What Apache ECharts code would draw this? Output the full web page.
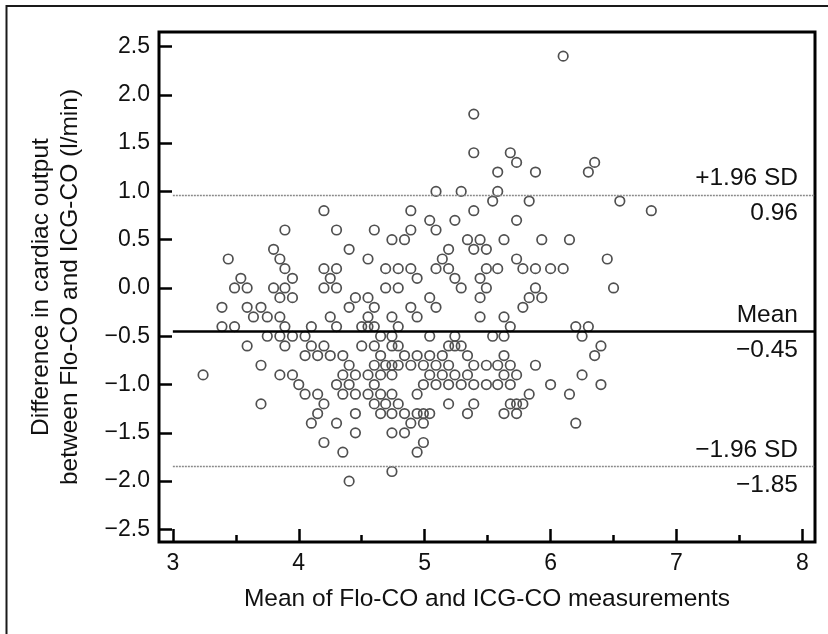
<!DOCTYPE html>
<html>
<head>
<meta charset="utf-8">
<title>Bland-Altman Flo-CO vs ICG-CO</title>
<style>
  html, body { margin: 0; padding: 0; background: #fff; }
  #chart { width: 828px; height: 634px; }
</style>
</head>
<body>
<div id="chart"></div>
<script src="https://cdn.jsdelivr.net/npm/echarts@6/dist/echarts.min.js"></script>
<script>
// mean of the two methods (x) and their difference (y)
var meanCO = [
  3.24, 3.39, 3.39, 3.44, 3.49, 3.49, 3.54, 3.59, 3.59, 3.59, 3.64, 3.70, 3.70, 3.70, 3.75, 3.75,
  3.80, 3.80, 3.85, 3.85, 3.85, 3.85, 3.85, 3.89, 3.89, 3.89, 3.89, 3.89, 3.95, 3.95, 3.95, 3.95,
  4.00, 4.05, 4.05, 4.05, 4.10, 4.10, 4.10, 4.15, 4.15, 4.15, 4.20, 4.20, 4.20, 4.20, 4.20, 4.20,
  4.25, 4.25, 4.25, 4.30, 4.30, 4.30, 4.30, 4.30, 4.30, 4.35, 4.35, 4.35, 4.35, 4.40, 4.40, 4.40,
  4.40, 4.40, 4.45, 4.45, 4.45, 4.45, 4.45, 4.50, 4.50, 4.55, 4.55, 4.55, 4.55, 4.55, 4.55, 4.60,
  4.60, 4.60, 4.60, 4.60, 4.60, 4.60, 4.65, 4.65, 4.65, 4.65, 4.65, 4.69, 4.69, 4.69, 4.69, 4.74,
  4.74, 4.74, 4.74, 4.74, 4.74, 4.74, 4.74, 4.74, 4.74, 4.79, 4.79, 4.79, 4.79, 4.79, 4.79, 4.84,
  4.84, 4.84, 4.84, 4.89, 4.89, 4.89, 4.89, 4.89, 4.89, 4.94, 4.94, 4.94, 4.94, 4.94, 4.94, 4.99,
  4.99, 4.99, 4.99, 4.99, 5.04, 5.04, 5.04, 5.04, 5.04, 5.04, 5.09, 5.09, 5.09, 5.09, 5.09, 5.09,
  5.14, 5.14, 5.14, 5.19, 5.19, 5.19, 5.19, 5.19, 5.19, 5.24, 5.24, 5.24, 5.24, 5.24, 5.29, 5.29,
  5.29, 5.29, 5.34, 5.34, 5.34, 5.34, 5.39, 5.39, 5.39, 5.39, 5.39, 5.39, 5.39, 5.44, 5.44, 5.44,
  5.44, 5.49, 5.49, 5.49, 5.49, 5.49, 5.54, 5.54, 5.58, 5.58, 5.58, 5.58, 5.58, 5.63, 5.63, 5.63,
  5.63, 5.63, 5.63, 5.68, 5.68, 5.68, 5.68, 5.68, 5.73, 5.73, 5.73, 5.73, 5.73, 5.73, 5.78, 5.78,
  5.78, 5.83, 5.83, 5.83, 5.88, 5.88, 5.88, 5.88, 5.93, 5.93, 6.00, 6.00, 6.10, 6.10, 6.15, 6.15,
  6.20, 6.20, 6.25, 6.25, 6.30, 6.30, 6.35, 6.35, 6.40, 6.40, 6.45, 6.50, 6.55, 6.80
];
var diffCO = [
  -0.9, -0.2, -0.4, 0.3, 0.0, -0.4, 0.1, 0.0, -0.2, -0.6, -0.3, -0.2, -0.8, -1.2, -0.3, -0.5,
  0.4, 0.0, 0.3, -0.1, -0.3, -0.5, -0.9, 0.6, 0.2, 0.0, -0.4, -0.6, 0.1, -0.1, -0.5, -0.9,
  -1.0, -0.5, -0.7, -1.1, -0.4, -0.6, -1.4, -0.7, -1.1, -1.3, 0.8, 0.2, 0.0, -0.6, -1.2, -1.6,
  0.1, -0.3, -0.7, 0.6, 0.2, 0.0, -0.4, -1.0, -1.4, -0.7, -0.9, -1.1, -1.7, 0.4, -0.2, -0.8,
  -1.0, -2.0, -0.1, -0.9, -1.1, -1.3, -1.5, -0.4, -0.6, 0.3, -0.1, -0.3, -0.4, -0.9, -1.1, 0.6,
  -0.2, -0.4, -0.6, -0.8, -1.0, -1.2, -0.5, -0.7, -0.9, -1.1, -1.3, 0.2, 0.0, -0.8, -1.2, 0.5,
  -0.3, -0.5, -0.6, -0.8, -0.9, -1.1, -1.3, -1.5, -1.9, 0.2, 0.0, -0.4, -0.6, -0.8, -1.2, 0.5,
  -0.7, -1.3, -1.5, 0.8, 0.6, 0.2, -0.2, -0.8, -1.4, 0.1, -0.3, -0.7, -1.1, -1.3, -1.7, -0.8,
  -1.0, -1.3, -1.4, -1.6, 0.7, -0.1, -0.5, -0.7, -0.9, -1.3, 1.0, 0.6, 0.2, -0.2, -0.8, -1.0,
  0.3, -0.7, -0.9, 0.4, 0.2, -0.6, -0.8, -1.0, -1.2, 0.7, 0.1, -0.5, -0.6, -0.9, 1.0, 0.0,
  -0.6, -1.0, 0.5, -0.7, -0.9, -1.3, 1.8, 1.4, 0.8, 0.4, -0.8, -1.0, -1.2, 0.5, 0.1, -0.1,
  -0.3, 0.4, 0.2, 0.0, -0.8, -1.0, 0.9, -0.5, 1.2, 1.0, 0.2, -0.8, -1.0, 0.5, -0.3, -0.5,
  -0.7, -0.9, -1.3, 1.4, -0.4, -0.8, -1.0, -1.2, 1.3, 0.7, 0.3, -0.9, -1.2, -1.3, 0.2, -0.2,
  -1.2, 0.9, -0.1, -1.1, 1.2, 0.2, 0.0, -0.8, 0.5, -0.1, 0.2, -1.0, 2.4, 0.2, 0.5, -1.1,
  -0.4, -1.4, -0.5, -0.9, 1.2, -0.4, 1.3, -0.7, -0.6, -1.0, 0.3, 0.0, 0.9, 0.8
];

var xTicks = [3, 4, 5, 6, 7, 8];
var xMinorTicks = [3.5, 4.5, 5.5, 6.5, 7.5];
var yTicks = [-2.5, -2.0, -1.5, -1.0, -0.5, 0.0, 0.5, 1.0, 1.5, 2.0, 2.5];

// limits of agreement and bias
var limitValues = [0.96, -0.45, -1.85];
var limitNames = ['+1.96 SD', 'Mean', '\u22121.96 SD'];
var limitLabels = ['0.96', '\u22120.45', '\u22121.85'];
var lineFrom = 3, lineTo = 8.1;

var FONT = '"Liberation Sans", Arial, Helvetica, sans-serif';

function fmt(v) {
  var s = Math.abs(v).toFixed(1);
  return v < 0 ? '\u2212' + s : s;
}

var points = meanCO.map(function (m, i) { return [m, diffCO[i]]; });

var markData = [];
limitValues.forEach(function (v, i) {
  var isMean = i === 1;
  var style = isMean
    ? { color: '#000', width: 2.6, type: 'solid' }
    : { color: '#8a8a8a', width: 1.3, type: [2, 1] };
  markData.push([
    { coord: [lineFrom, v], lineStyle: style,
      label: { show: true, position: 'insideEndTop', formatter: limitNames[i], distance: [17, 4] } },
    { coord: [lineTo, v] }
  ]);
  markData.push([
    { coord: [lineFrom, v], lineStyle: { color: 'rgba(0,0,0,0)', width: 0 },
      label: { show: true, position: 'insideEndBottom', formatter: limitLabels[i], distance: [17, 6] } },
    { coord: [lineTo, v] }
  ]);
});

var chart = echarts.init(document.getElementById('chart'));
chart.setOption({
  animation: false,
  backgroundColor: '#fff',
  textStyle: { fontFamily: FONT },
  graphic: [{
    type: 'rect',
    shape: { x: 6.5, y: 6, width: 840, height: 660 },
    style: { fill: 'none', stroke: '#1a1a1a', lineWidth: 2 },
    silent: true
  }],
  grid: {
    left: 159, right: 13, top: 32, bottom: 92,
    show: true, borderColor: '#000', borderWidth: 3, backgroundColor: 'transparent'
  },
  xAxis: [{
    type: 'value', min: 2.89, max: 8.1,
    name: 'Mean of Flo-CO and ICG-CO measurements',
    nameLocation: 'middle', nameGap: 45,
    nameTextStyle: { fontSize: 24.5, color: '#111', fontFamily: FONT },
    axisLine: { show: false, onZero: false },
    splitLine: { show: false },
    axisTick: { show: true, inside: true, length: 13, customValues: xTicks,
      lineStyle: { color: '#000', width: 2.5 } },
    axisLabel: { show: true, customValues: xTicks, margin: 10, fontSize: 23, color: '#111',
      fontFamily: FONT, formatter: function (v) { return String(v); } }
  }, {
    type: 'value', min: 2.89, max: 8.1, position: 'bottom',
    axisLine: { show: false, onZero: false },
    splitLine: { show: false },
    axisLabel: { show: false },
    axisTick: { show: true, inside: true, length: 7, customValues: xMinorTicks,
      lineStyle: { color: '#000', width: 2.5 } }
  }],
  yAxis: {
    type: 'value', min: -2.63, max: 2.65,
    name: 'Difference in cardiac output\nbetween Flo-CO and ICG-CO (l/min)',
    nameLocation: 'middle', nameGap: 74, nameRotate: 90,
    nameTextStyle: { fontSize: 24.5, lineHeight: 29, color: '#111', fontFamily: FONT },
    axisLine: { show: false, onZero: false },
    splitLine: { show: false },
    axisTick: { show: true, inside: true, length: 13, customValues: yTicks,
      lineStyle: { color: '#000', width: 2.5 } },
    axisLabel: { show: true, customValues: yTicks, margin: 9, fontSize: 23, color: '#111',
      fontFamily: FONT, formatter: fmt }
  },
  series: [{
    type: 'scatter',
    data: points,
    symbol: 'circle',
    symbolSize: 9.5,
    itemStyle: { color: 'rgba(255,255,255,0)', borderColor: '#505050', borderWidth: 1.7, opacity: 1 },
    silent: true,
    markLine: {
      silent: true,
      symbol: 'none',
      animation: false,
      label: { fontSize: 24.5, color: '#111', fontFamily: FONT },
      data: markData
    }
  }]
});
</script>
</body>
</html>
